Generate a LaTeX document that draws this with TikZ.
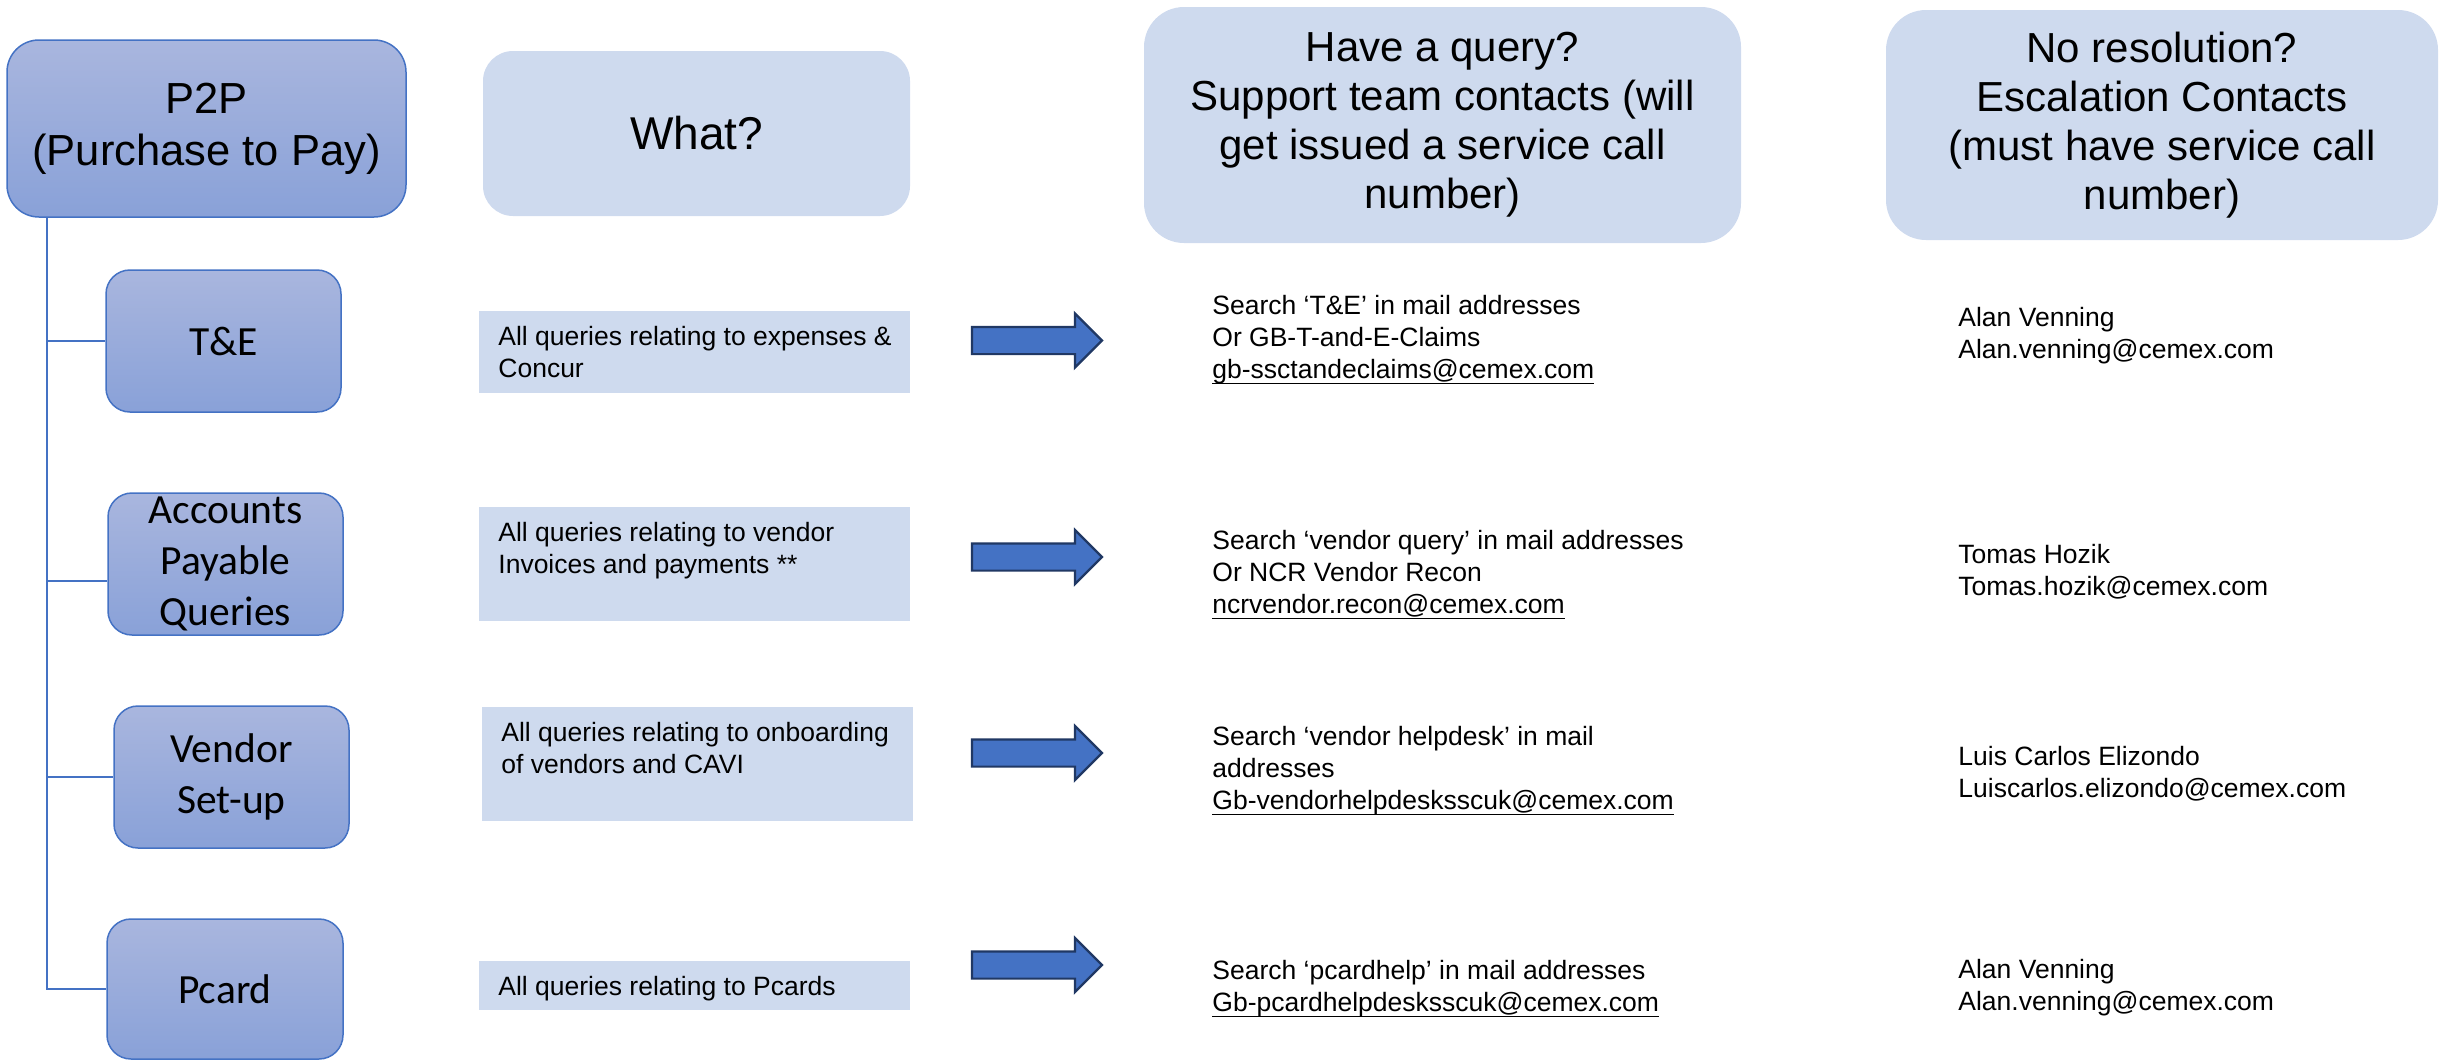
\documentclass[tikz,border=0pt]{standalone}
\usepackage{fontspec}
\setmainfont{Liberation Sans}
\newfontfamily\carlito{Carlito}
\usetikzlibrary{shapes.arrows}
\definecolor{bordblue}{RGB}{68,114,196}
\definecolor{gtop}{RGB}{169,182,222}
\definecolor{gbot}{RGB}{137,161,216}
\definecolor{paleblue}{RGB}{206,218,238}
\definecolor{arrblue}{RGB}{68,114,196}
\definecolor{arrdark}{RGB}{32,56,100}
\newcommand{\mailul}[1]{\leavevmode\setbox0\hbox{#1}\rlap{\rule[-3.2pt]{\wd0}{0.8pt}}\box0}
\begin{document}
\begin{tikzpicture}[x=0.5pt,y=-0.5pt,
  lbox/.style={rounded corners=12pt, draw=bordblue, line width=0.75pt,
    top color=gtop, bottom color=gbot, align=center, inner sep=0pt,
    font=\carlito\fontsize{20.75pt}{25.5pt}\selectfont,
    minimum width=117.5pt, minimum height=71pt},
  topbox/.style={rounded corners=16pt, draw=bordblue, line width=0.75pt,
    top color=gtop, bottom color=gbot, align=center, inner sep=0pt,
    font=\fontsize{21.75pt}{26pt}\selectfont},
  headbox/.style={rounded corners=20pt, fill=paleblue, align=center, inner sep=0pt,
    font=\fontsize{21pt}{24.5pt}\selectfont},
  whatbox/.style={fill=paleblue, inner sep=0pt, minimum width=215.5pt},
  txt/.style={anchor=base west, align=left, inner sep=0pt,
    font=\fontsize{13.25pt}{16pt}\selectfont},
  wtxt/.style={anchor=base west, align=left, inner sep=0pt,
    font=\fontsize{13.25pt}{15.75pt}\selectfont},
  arr/.style={single arrow, draw=arrdark, fill=arrblue, line width=1.1pt,
    inner xsep=0pt, inner ysep=6.25pt, minimum height=65pt,
    single arrow head extend=6.75pt, single arrow tip angle=90,
    outer sep=0pt, anchor=tail},
  conn/.style={draw=bordblue, line width=0.8pt}
]
\useasboundingbox (0,0) rectangle (2440,1060);

% header row
\node[topbox, minimum width=199.5pt, minimum height=88.5pt] (p2p) at (206.5,128.5)
  {P2P\\(Purchase to Pay)};
\node[headbox, rounded corners=15pt, minimum width=213.5pt, minimum height=82.5pt,
  font=\fontsize{23pt}{27pt}\selectfont] (what) at (696.5,133.5) {What?};
\node[headbox, minimum width=298.5pt, minimum height=118pt] (support) at (1442.5,125)
  {Have a query?\\Support team contacts (will\\get issued a service call\\number)};
\node[headbox, minimum width=276pt, minimum height=115pt] (escal) at (2162,125)
  {No resolution?\\Escalation Contacts\\(must have service call\\number)};

% left column
\node[lbox] (te) at (223.5,341) {T\&E};
\node[lbox] (ap) at (225.5,564) {Accounts\\Payable\\Queries};
\node[lbox] (vs) at (231.5,777) {Vendor\\Set-up};
\node[lbox, minimum width=118pt, minimum height=70pt] (pc) at (225,989) {Pcard};

\coordinate (trunk) at (47,217);
\draw[conn] (trunk) |- (te.west);
\draw[conn] (trunk) |- ([yshift=-8.5pt]ap.west);
\draw[conn] (trunk) |- (vs.west);
\draw[conn] (trunk) |- (pc.west);

% what boxes
\node[whatbox, minimum height=41pt] (w1) at (694.5,352) {};
\node[whatbox, minimum height=57pt] (w2) at (694.5,564) {};
\node[whatbox, minimum height=57pt] (w3) at (697,764) {};
\node[whatbox, minimum height=24.5pt] (w4) at (694,985.5) {};
\node[wtxt] (w1t) at (498,377) {All queries relating to expenses \&\\Concur};
\node[wtxt] (w2t) at (498,573) {All queries relating to vendor\\Invoices and payments **};
\node[wtxt] (w3t) at (501,773) {All queries relating to onboarding\\of vendors and CAVI};
\node[wtxt] (w4t) at (498,995) {All queries relating to Pcards};

% arrows
\node[arr] (a1) at (972,340.5) {};
\node[arr] (a2) at (972,557) {};
\node[arr] (a3) at (972,753) {};
\node[arr] (a4) at (972,965) {};

% support contacts
\node[txt] (s1) at (1212,378) {Search ‘T\&E’ in mail addresses\\Or GB-T-and-E-Claims\\\mailul{gb-ssctandeclaims@cemex.com}};
\node[txt] (s2) at (1212,613) {Search ‘vendor query’ in mail addresses\\Or NCR Vendor Recon\\\mailul{ncrvendor.recon@cemex.com}};
\node[txt] (s3) at (1212,809) {Search ‘vendor helpdesk’ in mail\\addresses\\\mailul{Gb-vendorhelpdesksscuk@cemex.com}};
\node[txt] (s4) at (1212,1011) {Search ‘pcardhelp’ in mail addresses\\\mailul{Gb-pcardhelpdesksscuk@cemex.com}};

% escalation contacts
\node[txt] (e1) at (1958,358) {Alan Venning\\Alan.venning@cemex.com};
\node[txt] (e2) at (1958,595) {Tomas Hozik\\Tomas.hozik@cemex.com};
\node[txt] (e3) at (1958,797) {Luis Carlos Elizondo\\Luiscarlos.elizondo@cemex.com};
\node[txt] (e4) at (1958,1010) {Alan Venning\\Alan.venning@cemex.com};
\end{tikzpicture}
\end{document}
